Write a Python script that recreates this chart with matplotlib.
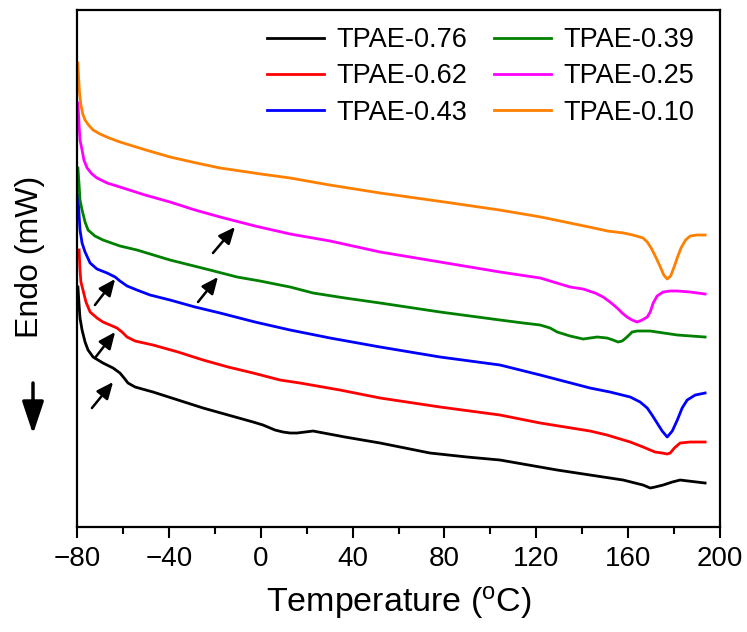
import matplotlib
matplotlib.use("Agg")
import matplotlib.pyplot as plt
from matplotlib.ticker import MultipleLocator

# DSC traces, heat flow in arbitrary units (curves stacked)
t_076 = [-79.6, -79.1, -78.7, -77.8, -76.5, -75.2, -73.0, -68.7, -64.3, -61.3, -59.5, -57.8, -54.7, -46.9,
         -36.0, -25.1, -14.2, -3.3, 1.0, 6.2, 9.7, 12.8, 15.8, 19.3, 22.8, 36.7, 52.0, 73.7, 89.9, 104.2,
         129.1, 157.8, 166.5, 169.6, 171.7, 175.2, 179.2, 182.6, 193.5]
h_076 = [2.40, 2.22, 2.09, 1.97, 1.85, 1.77, 1.70, 1.64, 1.59, 1.54, 1.49, 1.44, 1.40, 1.35,
         1.27, 1.19, 1.12, 1.05, 1.02, 0.97, 0.95, 0.94, 0.94, 0.95, 0.96, 0.90, 0.84, 0.74, 0.70, 0.67,
         0.57, 0.47, 0.42, 0.39, 0.40, 0.42, 0.45, 0.47, 0.44]

t_062 = [-79.1, -78.7, -78.3, -77.4, -76.1, -74.3, -71.3, -68.7, -65.6, -62.6, -60.4, -58.2, -54.7, -46.9,
         -36.0, -25.1, -14.2, -3.3, 8.4, 17.1, 34.5, 52.0, 78.1, 104.2, 121.7, 143.4, 150.8, 160.9, 166.5,
         169.6, 171.7, 174.8, 177.0, 178.3, 180.1, 182.6, 187.0, 193.5]
h_062 = [2.77, 2.57, 2.45, 2.37, 2.25, 2.15, 2.09, 2.05, 2.02, 1.99, 1.95, 1.90, 1.86, 1.82,
         1.75, 1.67, 1.60, 1.54, 1.47, 1.44, 1.37, 1.29, 1.20, 1.12, 1.04, 0.96, 0.92, 0.85, 0.80,
         0.77, 0.75, 0.74, 0.73, 0.74, 0.79, 0.84, 0.85, 0.85]

t_043 = [-79.6, -79.1, -78.7, -77.8, -76.5, -74.3, -71.3, -66.9, -63.4, -61.3, -58.2, -53.9, -48.2, -39.5,
         -28.6, -17.7, -2.5, 12.8, 30.2, 52.0, 78.1, 104.2, 121.7, 143.4, 152.1, 160.9, 165.2, 168.3,
         170.4, 172.6, 174.8, 177.0, 179.2, 181.4, 183.5, 185.7, 189.2, 193.5]
h_043 = [3.32, 3.12, 2.97, 2.84, 2.75, 2.64, 2.58, 2.54, 2.50, 2.46, 2.41, 2.37, 2.32, 2.27,
         2.20, 2.14, 2.05, 1.97, 1.89, 1.80, 1.70, 1.62, 1.52, 1.39, 1.35, 1.30, 1.25, 1.19,
         1.12, 1.04, 0.96, 0.90, 0.96, 1.07, 1.19, 1.27, 1.32, 1.34]

t_039 = [-79.6, -79.1, -78.7, -77.8, -76.5, -75.2, -72.2, -68.7, -61.3, -53.9, -39.5, -22.1, -10.3, -0.3,
         8.4, 12.8, 22.8, 36.7, 52.0, 78.1, 104.2, 114.3, 121.7, 126.0, 129.1, 134.7, 140.4, 143.4, 146.5,
         150.8, 153.4, 155.6, 157.4, 159.5, 161.7, 163.9, 169.6, 181.4, 193.5]
h_039 = [3.59, 3.42, 3.27, 3.17, 3.05, 2.97, 2.91, 2.87, 2.81, 2.77, 2.67, 2.57, 2.50, 2.46,
         2.42, 2.40, 2.34, 2.29, 2.24, 2.15, 2.07, 2.04, 2.02, 1.99, 1.95, 1.91, 1.88, 1.89, 1.90,
         1.89, 1.87, 1.85, 1.86, 1.90, 1.95, 1.96, 1.96, 1.92, 1.90]

t_025 = [-79.6, -79.1, -78.7, -77.8, -77.0, -75.6, -73.5, -71.3, -66.9, -61.3, -50.4, -39.5, -28.6, -17.7,
         -2.5, 12.8, 30.2, 52.0, 78.1, 104.2, 121.7, 134.7, 140.4, 145.6, 149.1, 152.1, 155.2, 157.4,
         159.5, 161.7, 163.9, 166.1, 168.3, 169.6, 170.9, 172.6, 175.2, 178.3, 181.4, 187.0, 193.5]
h_025 = [4.24, 4.02, 3.87, 3.77, 3.67, 3.59, 3.53, 3.49, 3.44, 3.40, 3.32, 3.25, 3.17, 3.10,
         3.01, 2.93, 2.86, 2.75, 2.65, 2.55, 2.49, 2.40, 2.38, 2.34, 2.30, 2.25, 2.19, 2.14,
         2.10, 2.07, 2.05, 2.07, 2.10, 2.15, 2.24, 2.31, 2.35, 2.36, 2.36, 2.35, 2.33]

t_010 = [-79.6, -79.3, -78.9, -78.3, -77.5, -76.5, -75.0, -73.0, -70.0, -66.0, -61.3, -50.0, -39.5, -28.0,
         -17.7, 0.0, 12.8, 30.0, 52.0, 80.0, 104.0, 122.0, 143.0, 151.0, 158.0, 162.0, 166.5, 168.3,
         170.0, 172.0, 174.0, 175.5, 177.0, 178.5, 180.0, 181.5, 183.0, 185.0, 187.0, 190.0, 193.5]
h_010 = [4.64, 4.49, 4.34, 4.22, 4.13, 4.07, 4.02, 3.97, 3.93, 3.89, 3.85, 3.77, 3.70, 3.64,
         3.59, 3.53, 3.49, 3.42, 3.34, 3.25, 3.17, 3.10, 3.00, 2.96, 2.94, 2.92, 2.89, 2.85,
         2.79, 2.70, 2.60, 2.52, 2.48, 2.51, 2.60, 2.70, 2.79, 2.87, 2.91, 2.92, 2.92]

labels = ["TPAE-0.76", "TPAE-0.62", "TPAE-0.43", "TPAE-0.39", "TPAE-0.25", "TPAE-0.10"]
colors = ["#000000", "#ff0000", "#0000ff", "#008000", "#ff00ff", "#ff8000"]
temps = [t_076, t_062, t_043, t_039, t_025, t_010]
flows = [h_076, h_062, h_043, h_039, h_025, h_010]

xticks = [-80, -40, 0, 40, 80, 120, 160, 200]

# glass-transition arrows: tail (x, y) -> tip (x, y)
arrow_tails = [(-73.5, 1.19), (-72.2, 1.69), (-72.2, 2.22), (-27.3, 2.25), (-20.8, 2.74)]
arrow_tips = [(-64.3, 1.45), (-63.4, 1.95), (-63.4, 2.48), (-18.6, 2.50), (-11.2, 3.00)]

font = ["Liberation Sans", "DejaVu Sans"]

fig = plt.figure(figsize=(7.47, 6.32), dpi=100)
ax = fig.add_axes([0.1031, 0.1661, 0.8608, 0.8181])

for t, h, c, lab in zip(temps, flows, colors, labels):
    ax.plot(t, h, color=c, linewidth=2, label=lab)

for tail, tip in zip(arrow_tails, arrow_tips):
    ax.annotate("", xy=tip, xytext=tail,
                arrowprops=dict(arrowstyle="-|>,head_length=0.5,head_width=0.22",
                                mutation_scale=20, color="black", lw=1.8,
                                shrinkA=0, shrinkB=0))

ax.set_xlim(-80, 200)
ax.set_ylim(0, 5.17)
ax.set_xticks(xticks)
ax.set_xticklabels([f"\u2212{abs(v)}" if v < 0 else str(v) for v in xticks],
                   fontsize=20, family=font)
ax.xaxis.set_minor_locator(MultipleLocator(20))
ax.tick_params(axis="x", which="major", direction="out", length=8, width=1.5, pad=6)
ax.tick_params(axis="x", which="minor", direction="out", length=5, width=1.5)
ax.set_yticks([])
for s in ax.spines.values():
    s.set_linewidth(1.6)

ax.set_xlabel("Temperature ($\\mathregular{^{o}}$C)", fontsize=24.5, family=font, labelpad=8)

fig.text(30 / 747, 1 - 257 / 632, "Endo (mW)", rotation=90, ha="center", va="center",
         fontsize=23, family=font)
fig.add_artist(matplotlib.patches.FancyArrowPatch(
    (33 / 747, 1 - 383 / 632), (33 / 747, 1 - 434 / 632), transform=fig.transFigure,
    arrowstyle="-|>,head_length=0.9,head_width=0.3", mutation_scale=22,
    color="black", lw=2.5, shrinkA=0, shrinkB=0))

ax.legend(loc="upper left", bbox_to_anchor=(267 / 747, 1 - 27 / 632),
          bbox_transform=fig.transFigure, ncol=2, frameon=False,
          prop={"family": font, "size": 19.5}, handlelength=2.1,
          handletextpad=0.45, columnspacing=1.0, labelspacing=0.38, borderpad=0,
          borderaxespad=0)

fig.savefig("out.png", dpi=100)
